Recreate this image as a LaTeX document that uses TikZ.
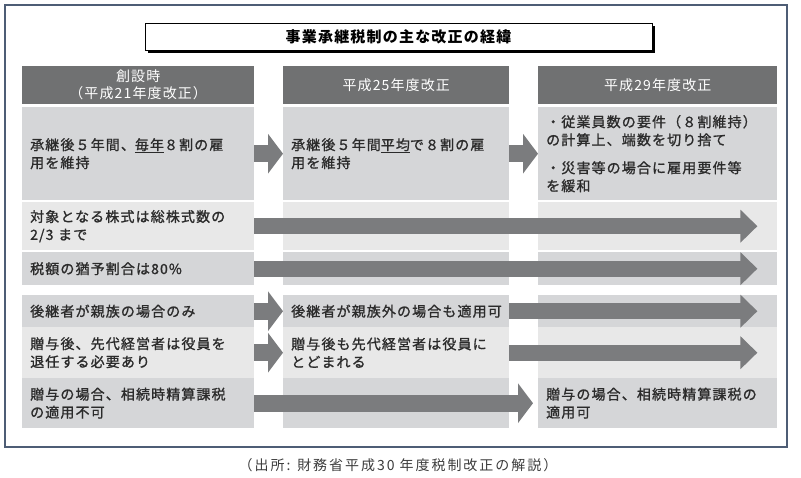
\documentclass[tikz,border=0pt]{standalone}
\usepackage{fontspec}
\newfontfamily\jp[LetterSpace=8]{Noto Sans CJK JP}
\newfontfamily\jpm[LetterSpace=8,FakeBold=1.2]{Noto Sans CJK JP}
\newfontfamily\jpcap[LetterSpace=14]{Noto Sans CJK JP}
\usepackage{xcolor}
\usepackage{tikz}
\usetikzlibrary{arrows.meta,shadows}

\definecolor{headgray}{HTML}{707172}
\definecolor{cellgray}{HTML}{D5D6D8}
\definecolor{celllight}{HTML}{E8E8E8}
\definecolor{arrowgray}{HTML}{7B7C7E}
\definecolor{framecol}{HTML}{4E5D75}
\definecolor{textdark}{HTML}{2B2B2B}
\definecolor{captiongray}{HTML}{3C3C3C}

\begin{document}
\begin{tikzpicture}[x=1pt,y=-1pt,
	cell/.style={anchor=north west, inner xsep=8pt, inner ysep=0pt, align=left, text=textdark, font=\jpm\fontsize{14}{18}\selectfont},
	head/.style={anchor=north west, fill=headgray, text=white, inner sep=0pt, align=center, minimum height=38pt, font=\jp\fontsize{14}{17}\selectfont},
	bigarrow/.style={draw=arrowgray, line width=17pt, -{Triangle[length=15pt,width=39pt]}},
	longarrow/.style={draw=arrowgray, line width=16pt, -{Triangle[length=17pt,width=32pt]}}]
					\useasboundingbox (0,0) rectangle (801,477);
					% Rahmen
					\draw[framecol, line width=1.2pt] (5,5) rectangle (787,447);
					
					% Titel
					\node[draw=black, line width=0.8pt, fill=white, minimum width=507pt, minimum height=27pt, inner sep=0pt,
						drop shadow={shadow xshift=2.5pt, shadow yshift=-2.5pt, fill=black, opacity=1},
						font=\jp\bfseries\fontsize{15}{18}\selectfont] (title) at (398.5,36.5) {事業承継税制の主な改正の経緯};
					
					% Kopfzeile
					\foreach \x/\w/\n/\t in {22/232/h1/{創設時\\（平成21年度改正）}, 283/226/h2/平成25年度改正, 538/239/h3/平成29年度改正} {
						\node[head, text width=\w pt] (\n) at (\x,66) {\t};
					}
					
					% Zellen mit Text
					\node[cell, fill=cellgray, text width=216pt, minimum height=93pt] (c11) at (22,107) {承継後５年間、\underline{毎年}８割の雇\\用を維持};
					\node[cell, fill=cellgray, text width=210pt, minimum height=93pt] (c12) at (283,107) {承継後５年間\underline{平均}で８割の雇\\用を維持};
					\node[cell, fill=cellgray, text width=223pt, minimum height=93pt] (c13) at (538,107) {・従業員数の要件（８割維持）\\の計算上、端数を切り捨て\\[10pt]・災害等の場合に雇用要件等\\を緩和};
					\node[cell, fill=celllight, text width=216pt, minimum height=48pt] (c21) at (22,202) {対象となる株式は総株式数の\\2/3 まで};
					\node[cell, fill=cellgray, text width=216pt, minimum height=33pt] (c31) at (22,252) {税額の猶予割合は80\%};
					\node[cell, fill=cellgray, text width=216pt, minimum height=32pt] (c41) at (22,295) {後継者が親族の場合のみ};
					\node[cell, fill=cellgray, text width=210pt, minimum height=32pt] (c42) at (283,295) {後継者が親族外の場合も適用可};
					\node[cell, fill=celllight, text width=216pt, minimum height=51pt] (c51) at (22,327) {贈与後、先代経営者は役員を\\退任する必要あり};
					\node[cell, fill=celllight, text width=210pt, minimum height=51pt] (c52) at (283,327) {贈与後も先代経営者は役員に\\とどまれる};
					\node[cell, fill=cellgray, text width=216pt, minimum height=50pt] (c61) at (22,378) {贈与の場合、相続時精算課税\\の適用不可};
					\node[cell, fill=cellgray, text width=223pt, minimum height=50pt] (c63) at (538,378) {贈与の場合、相続時精算課税の\\適用可};
					
					% leere Zellen
					\foreach \n/\x/\y/\w/\h/\c in {c22/283/202/226/48/celllight, c23/538/202/239/48/celllight,
						c32/283/252/226/33/cellgray, c33/538/252/239/33/cellgray, c43/538/295/239/32/cellgray,
						c53/538/327/239/51/celllight, c62/283/378/226/50/cellgray} {
						\node[cell, fill=\c, minimum width=\w pt, minimum height=\h pt] (\n) at (\x,\y) {};
					}
					
					% Pfeile
					\draw[bigarrow] (c11.east) -- (c12.west);
					\draw[bigarrow] (c12.east) -- (c13.west);
					\draw[longarrow] (c21.east) -- ([xshift=-20pt]c23.east);
					\draw[longarrow] (c31.east) -- ([xshift=-20pt]c33.east);
					\draw[bigarrow] (c41.east) -- (c42.west);
					\draw[longarrow] (c42.east) -- ([xshift=-20pt]c43.east);
					\draw[bigarrow] (c51.east) -- (c52.west);
					\draw[longarrow] (c52.east) -- ([xshift=-20pt]c53.east);
					\draw[bigarrow] (c61.east) -- ([xshift=-5pt]c63.west);
					
					% Quelle
					\node[font=\jpcap\fontsize{14}{17}\selectfont, text=captiongray] (src) at (398,465) {（出所: 財務省平成30 年度税制改正の解説）};
				\end{tikzpicture}
\end{document}
